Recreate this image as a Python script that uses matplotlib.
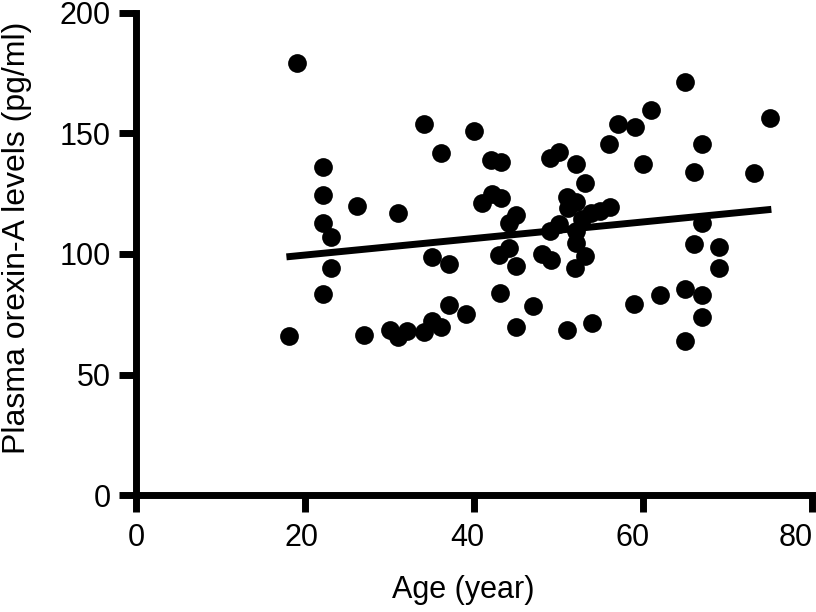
import matplotlib.pyplot as plt
import matplotlib.transforms as mtransforms
import numpy as np

plt.rcParams['font.family'] = ['Liberation Sans', 'DejaVu Sans']

# age (year) and plasma orexin-A (pg/ml)
age = [19.1, 22.1, 22.1, 22.1, 23.1, 23.1, 22.1, 18.1, 26.1, 31.0,
       34.1, 40.0, 36.1, 42.0, 43.2, 42.1, 43.2, 41.0, 45.0, 44.1,
       44.1, 43.0, 45.0, 35.0, 37.0, 43.1, 37.0, 39.1, 27.0, 30.1,
       31.0, 32.1, 34.1, 35.0, 36.1, 45.0, 47.0, 65.0, 61.0, 75.0,
       57.1, 59.1, 56.0, 67.0, 60.0, 66.0, 73.1, 49.0, 50.1, 52.1,
       53.1, 51.0, 52.1, 51.1, 53.8, 54.9, 56.1, 52.8, 49.0, 50.1,
       52.1, 52.1, 53.1, 52.0, 48.0, 49.1, 67.0, 66.0, 69.0, 69.0,
       65.0, 67.0, 62.0, 59.0, 67.0, 65.0, 51.0, 54.0]
orexin = [179.0, 135.9, 124.4, 112.9, 106.9, 94.0, 83.6, 65.9, 119.8, 117.1,
          154.1, 151.1, 142.0, 138.9, 138.0, 125.0, 123.4, 121.2, 116.0, 112.8,
          102.3, 99.7, 95.1, 98.8, 95.8, 83.9, 78.8, 75.2, 66.3, 68.4,
          65.5, 68.0, 67.7, 72.3, 69.6, 69.7, 78.4, 171.4, 159.7, 156.2,
          153.8, 152.5, 145.6, 145.8, 137.2, 133.8, 133.7, 139.6, 142.5, 137.4,
          129.5, 123.7, 121.6, 119.2, 117.0, 118.0, 119.6, 114.7, 109.7, 112.5,
          109.5, 104.5, 99.3, 94.0, 100.0, 97.5, 112.7, 104.1, 102.7, 94.0,
          85.3, 82.9, 82.9, 79.2, 73.9, 63.9, 68.6, 71.5]

# regression line end points
fit_x = [17.8, 75.2]
fit_y = [98.8, 118.5]

xticks = [0, 20, 40, 60, 80]
yticks = [0, 50, 100, 150, 200]

fig = plt.figure(figsize=(8.16, 6.12), dpi=100)
ax = fig.add_axes([0.1667, 0.191, 0.8283, 0.788])

ax.plot(age, orexin, 'o', color='black', markersize=13.5, markeredgewidth=0)
ax.plot(fit_x, fit_y, color='black', linewidth=5, solid_capstyle='butt')

ax.set_xlim(0, 80)
ax.set_ylim(0, 200)
ax.set_xticks(xticks)
ax.set_yticks(yticks)

for s in ['top', 'right']:
    ax.spines[s].set_visible(False)
for s in ['left', 'bottom']:
    ax.spines[s].set_linewidth(5)
    ax.spines[s].set_capstyle('projecting')
ax.tick_params(width=5, length=12, labelsize=22)
ax.tick_params(axis='y', pad=6)
ax.tick_params(axis='x', pad=8)

# the x tick labels in the original drift slightly left of their ticks
shifts = [0, -4, -7, -10, -16]
for lbl, dx in zip(ax.get_xticklabels(), shifts):
    lbl.set_transform(lbl.get_transform() +
                      mtransforms.ScaledTranslation(dx / 100, 0, fig.dpi_scale_trans))

ax.set_xlabel("Age (year)", fontsize=22)
ax.set_ylabel("Plasma orexin-A levels (pg/ml)", fontsize=23)
ax.xaxis.set_label_coords(0.484, -0.166)
ax.yaxis.set_label_coords(-0.154, 0.534)

plt.savefig("out.png", dpi=100)
